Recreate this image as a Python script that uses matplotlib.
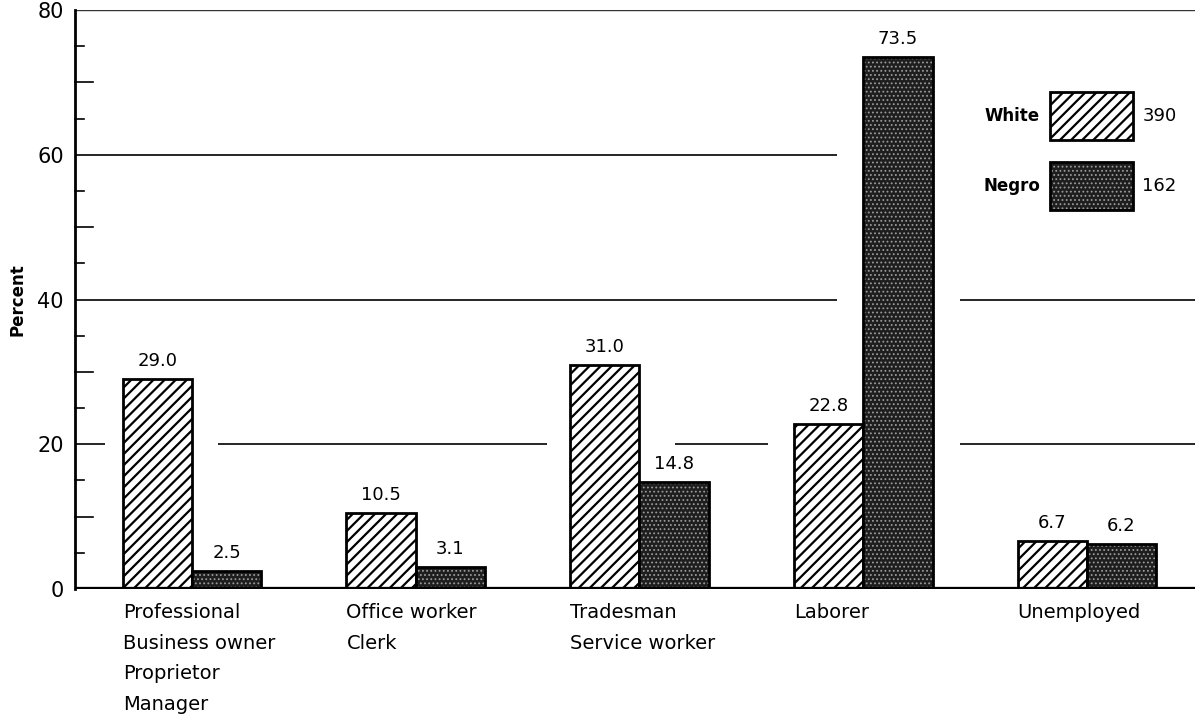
import matplotlib
matplotlib.use('Agg')
import matplotlib.pyplot as plt
from matplotlib.patches import Rectangle
import numpy as np

# occupation of respondents, percent by race
categories = ["Professional\nBusiness owner\nProprietor\nManager",
              "Office worker\nClerk",
              "Tradesman\nService worker",
              "Laborer",
              "Unemployed"]
white_pct = [29.0, 10.5, 31.0, 22.8, 6.7]
negro_pct = [2.5, 3.1, 14.8, 73.5, 6.2]
series_names = ["White", "Negro"]
series_n = [390, 162]
y_ticks = [0, 20, 40, 60, 80]

plt.rcParams['font.family'] = ['DejaVu Sans']

DARK = '#1e1e1e'
DOTS = '#9a9a9a'

fig = plt.figure(figsize=(11.99, 7.14), dpi=100)
ax = fig.add_axes([0.0626, 0.175, 0.934, 0.811])

x = np.arange(len(categories))
w = 0.31
xlim = (-0.523, 4.483)

# white bars: diagonal hatch
with plt.rc_context({'hatch.linewidth': 1.6}):
    ax.bar(x - w / 2, white_pct, w, color='white', edgecolor='black',
           hatch='///', linewidth=2, zorder=3)
# negro bars: dark stipple, then black outline on top
with plt.rc_context({'hatch.linewidth': 0.8}):
    ax.bar(x + w / 2, negro_pct, w, color=DARK, edgecolor=DOTS,
           hatch='....', linewidth=0, zorder=3)
ax.bar(x + w / 2, negro_pct, w, color='none', edgecolor='black',
       linewidth=2, zorder=4)

for xi, v in zip(x - w / 2, white_pct):
    ax.text(xi, v + 1.2, f"{v:.1f}", ha='center', va='bottom', fontsize=13)
for xi, v in zip(x + w / 2, negro_pct):
    ax.text(xi, v + 1.2, f"{v:.1f}", ha='center', va='bottom', fontsize=13)

# broken horizontal rules, as in the original print
def px(p):
    return (p - 192) / 223.75

ax.hlines(80, xlim[0], xlim[1], color='#333333', linewidth=1.0, zorder=2)
ax.hlines(60, xlim[0], px(837), color='black', linewidth=1.2, zorder=2)
ax.hlines(40, xlim[0], px(837), color='black', linewidth=1.2, zorder=2)
ax.hlines(40, px(960), xlim[1], color='black', linewidth=1.2, zorder=2)
ax.hlines(20, xlim[0], px(105), color='black', linewidth=1.2, zorder=2)
ax.hlines(20, px(218), px(547), color='black', linewidth=1.2, zorder=2)
ax.hlines(20, px(675), px(768), color='black', linewidth=1.2, zorder=2)
ax.hlines(20, px(960), xlim[1], color='black', linewidth=1.2, zorder=2)

# minor marks on the left axis
ytr = ax.get_yaxis_transform()
for yv in range(5, 80, 5):
    if yv % 20 == 0:
        continue
    length = 0.016 if yv % 10 == 0 else 0.008
    ax.plot([0, length], [yv, yv], color='black', linewidth=1.2,
            transform=ytr, clip_on=False)

# baseline
ax.axhline(0, color='black', linewidth=3.8, zorder=5)

ax.set_xlim(*xlim)
ax.set_ylim(0, 80)
ax.set_yticks(y_ticks)
ax.set_yticklabels([str(t) for t in y_ticks], fontsize=15)
ax.tick_params(axis='y', length=0, pad=8)
ax.set_xticks([])
for s in ['top', 'right', 'bottom']:
    ax.spines[s].set_visible(False)
ax.spines['left'].set_linewidth(2)
fig.text(0.015, 0.58, "Percent", rotation=90, ha='center', va='center',
         fontsize=12, fontweight='bold')

# category labels, left aligned at the first bar of each group
xtr = ax.get_xaxis_transform()
for xi, lab in zip(x - w, categories):
    ax.text(xi, -0.024, lab, ha='left', va='top', fontsize=14,
            linespacing=1.78, transform=xtr)

# legend drawn by hand
box_y = [0.775, 0.655]
for i, (yb, name, n) in enumerate(zip(box_y, series_names, series_n)):
    if i == 0:
        with plt.rc_context({'hatch.linewidth': 1.6}):
            ax.add_patch(Rectangle((0.8705, yb), 0.0741, 0.083, transform=ax.transAxes,
                                   facecolor='white', edgecolor='black', hatch='///',
                                   linewidth=2, zorder=6))
    else:
        with plt.rc_context({'hatch.linewidth': 0.8}):
            ax.add_patch(Rectangle((0.8705, yb), 0.0741, 0.083, transform=ax.transAxes,
                                   facecolor=DARK, edgecolor=DOTS, hatch='....',
                                   linewidth=0, zorder=6))
        ax.add_patch(Rectangle((0.8705, yb), 0.0741, 0.083, transform=ax.transAxes,
                               facecolor='none', edgecolor='black',
                               linewidth=2, zorder=7))
    ax.text(0.8616, yb + 0.0415, name, ha='right', va='center', fontsize=12,
            fontweight='bold', transform=ax.transAxes)
    ax.text(0.953, yb + 0.0415, str(n), ha='left', va='center', fontsize=13,
            transform=ax.transAxes)

fig.savefig("out.png", dpi=100)
